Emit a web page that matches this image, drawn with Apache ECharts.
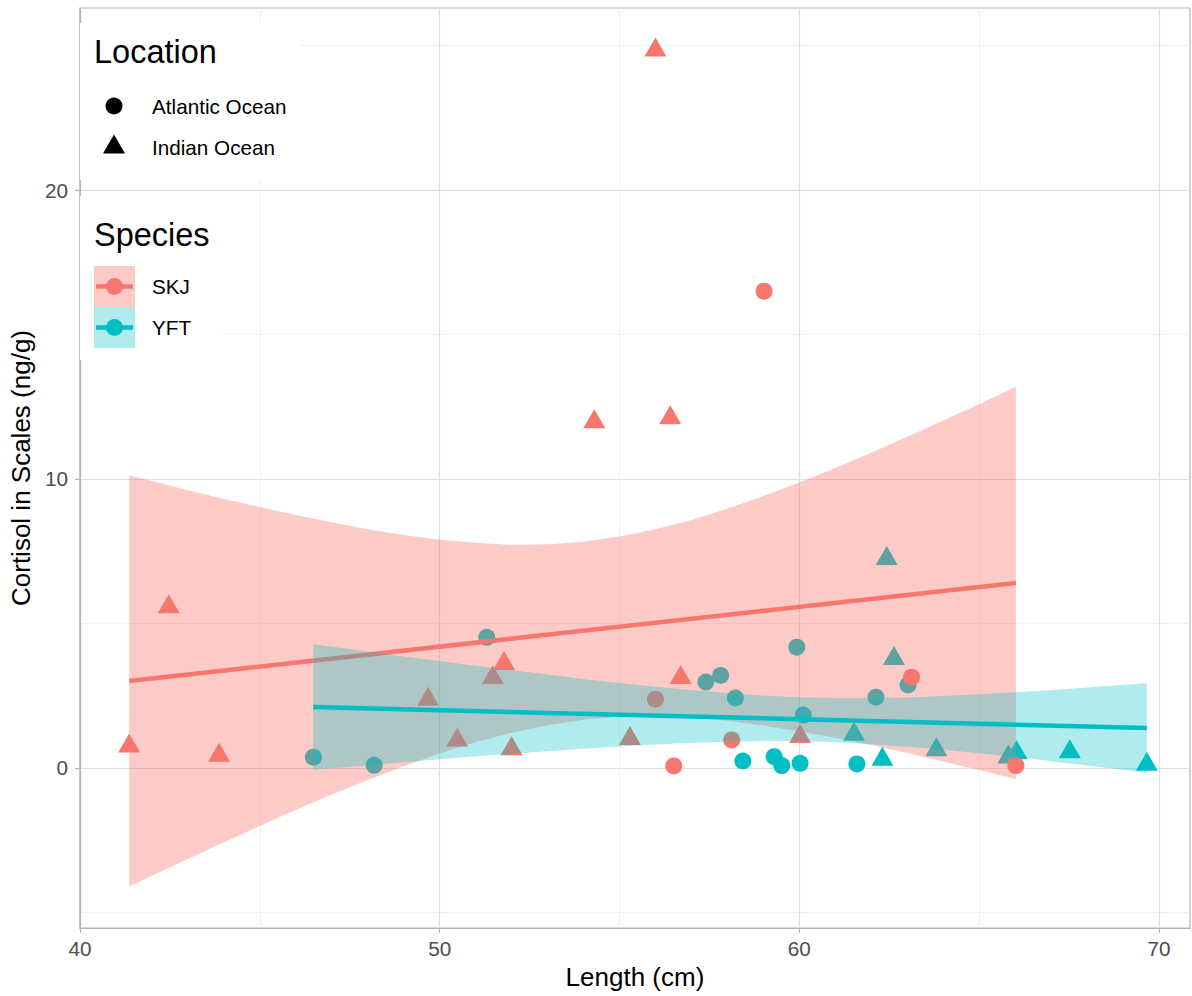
<!DOCTYPE html>
<html>
<head>
<meta charset="utf-8">
<script src="https://cdn.jsdelivr.net/npm/echarts@6/dist/echarts.min.js"></script>
<style>
html,body{margin:0;padding:0;background:#fff;}
#c{width:1192px;height:996px;}
</style>
</head>
<body>
<div id="c"></div>
<script>
// ---- data ----
const skjAtlX = [56.0, 56.51, 58.12, 59.02, 63.12, 66.02];
const skjAtlY = [2.38, 0.07, 0.97, 16.5, 3.14, 0.08];
const skjIndX = [41.37, 42.47, 43.87, 49.68, 50.49, 51.48, 51.79, 52.0, 54.30, 55.29, 56.0, 56.41, 56.70, 60.02];
const skjIndY = [0.75, 5.57, 0.43, 2.37, 0.96, 3.12, 3.61, 0.66, 11.97, 1.01, 24.84, 12.11, 3.12, 1.08];
const yftAtlX = [46.49, 48.18, 51.31, 57.40, 57.81, 58.22, 58.43, 59.30, 59.51, 59.93, 60.02, 60.11, 61.60, 62.13, 63.02];
const yftAtlY = [0.37, 0.09, 4.52, 2.97, 3.20, 2.42, 0.24, 0.39, 0.08, 4.18, 0.16, 1.83, 0.14, 2.45, 2.87];
const yftIndX = [61.52, 62.31, 62.43, 62.63, 63.81, 65.81, 66.04, 67.52, 69.66];
const yftIndY = [1.16, 0.29, 7.24, 3.78, 0.62, 0.37, 0.52, 0.55, 0.12];

// fitted lines (end points)
const skjFitX = [41.37, 66.02];
const skjFitY = [3.01, 6.40];
const yftFitX = [46.49, 69.66];
const yftFitY = [2.11, 1.38];

// confidence ribbons (upper / lower edges read along x)
const skjBandX  = [41.37, 42, 43, 44, 45, 46, 47, 48, 49, 50, 51, 52, 53, 54, 55, 56, 57, 58, 59, 60, 61, 62, 63, 64, 65, 66.02];
const skjBandHi = [10.12, 9.93, 9.61, 9.31, 9.03, 8.75, 8.50, 8.26, 8.06, 7.90, 7.79, 7.72, 7.74, 7.83, 8.01, 8.26, 8.58, 8.97, 9.41, 9.88, 10.38, 10.91, 11.46, 12.02, 12.59, 13.19];
const skjBandLo = [-4.10, -3.73, -3.15, -2.57, -2.01, -1.45, -0.92, -0.42, 0.06, 0.50, 0.89, 1.22, 1.48, 1.67, 1.77, 1.78, 1.74, 1.63, 1.47, 1.26, 1.04, 0.79, 0.52, 0.22, -0.07, -0.39];
const yftBandX  = [46.49, 48, 49, 50, 51, 52, 53, 54, 55, 56, 57, 58, 59, 60, 61, 62, 63, 64, 65, 66, 67, 68, 69.66];
const yftBandHi = [4.28, 4.03, 3.86, 3.70, 3.54, 3.39, 3.23, 3.08, 2.94, 2.81, 2.70, 2.59, 2.51, 2.45, 2.42, 2.42, 2.44, 2.49, 2.55, 2.62, 2.70, 2.78, 2.93];
const yftBandLo = [-0.06, 0.09, 0.20, 0.30, 0.40, 0.49, 0.58, 0.66, 0.74, 0.81, 0.87, 0.91, 0.93, 0.93, 0.89, 0.82, 0.73, 0.63, 0.51, 0.38, 0.23, 0.08, -0.17];

const xTicks = [40, 50, 60, 70];
const yTicks = [0, 10, 20];

// ---- styling ----
const FONT = '"Liberation Sans", Arial, Helvetica, sans-serif';
const RED = '#F8766D', CYAN = '#00BFC4';
const RED_FILL = 'rgba(248,118,109,0.38)';
const CYAN_FILL = 'rgba(0,191,196,0.31)';

const zip = (xs, ys) => xs.map((x, i) => [x, ys[i]]);

function scatter(name, xs, ys, color, tri) {
  return {
    type: 'scatter', name: name, data: zip(xs, ys),
    symbol: tri ? 'triangle' : 'circle',
    symbolSize: tri ? [22, 19] : 17,
    symbolOffset: tri ? [0, -3.2] : [0, 0],
    itemStyle: { color: color, opacity: 1 },
    z: 2, silent: true, emphasis: { disabled: true }
  };
}
function band(name, xs, lo, hi, fill, z) {
  return {
    type: 'custom', name: name, z: z, silent: true,
    data: [[xs[0], lo[0]]], encode: { x: 0, y: 1 },
    renderItem: function (params, api) {
      const pts = [];
      for (let i = 0; i < xs.length; i++) pts.push(api.coord([xs[i], hi[i]]));
      for (let i = xs.length - 1; i >= 0; i--) pts.push(api.coord([xs[i], lo[i]]));
      return { type: 'polygon', shape: { points: pts }, style: { fill: fill, stroke: null } };
    }
  };
}
function fitLine(name, xs, ys, color, z) {
  return {
    type: 'line', name: name, data: zip(xs, ys), symbol: 'none', z: z, silent: true,
    lineStyle: { color: color, width: 4.5 }, emphasis: { disabled: true }
  };
}

const axisCommon = {
  type: 'value',
  axisLine: { show: true, onZero: false, lineStyle: { color: '#B3B3B3', width: 1.2 } },
  axisTick: { show: true, length: 5, lineStyle: { color: '#B3B3B3', width: 1.2 } },
  splitLine: { show: true, lineStyle: { color: '#DEDEDE', width: 1.2 } },
  minorTick: { show: false, splitNumber: 2 },
  minorSplitLine: { show: true, lineStyle: { color: '#EEEEEE', width: 0.9 } },
  nameLocation: 'middle',
  nameTextStyle: { color: '#000', fontSize: 26, fontFamily: FONT }
};

const option = {
  animation: false,
  backgroundColor: '#fff',
  grid: { left: 79, right: 2, top: 8, bottom: 68, show: true, borderColor: '#B3B3B3', borderWidth: 1.2, backgroundColor: 'transparent' },
  xAxis: Object.assign({}, axisCommon, {
    min: 40, max: 70.86, interval: 10,
    name: 'Length (cm)', nameGap: 36,
    axisTick: Object.assign({}, axisCommon.axisTick, { customValues: xTicks }),
    axisLabel: { customValues: xTicks, color: '#4D4D4D', fontSize: 20.7, fontFamily: FONT, margin: 10,
      formatter: v => (xTicks.indexOf(v) >= 0 ? String(v) : '') }
  }),
  yAxis: Object.assign({}, axisCommon, {
    min: -5.54, max: 26.30, splitNumber: 3, minInterval: 10, maxInterval: 10,
    name: 'Cortisol in Scales (ng/g)', nameGap: 44,
    axisTick: Object.assign({}, axisCommon.axisTick, { customValues: yTicks }),
    axisLabel: { customValues: yTicks, color: '#4D4D4D', fontSize: 20.7, fontFamily: FONT, margin: 12,
      formatter: v => (yTicks.indexOf(v) >= 0 ? String(v) : '') }
  }),
  series: [
    scatter('YFT · Atlantic Ocean', yftAtlX, yftAtlY, CYAN, false),
    scatter('YFT · Indian Ocean', yftIndX, yftIndY, CYAN, true),
    scatter('SKJ · Atlantic Ocean', skjAtlX, skjAtlY, RED, false),
    scatter('SKJ · Indian Ocean', skjIndX, skjIndY, RED, true),
    band('SKJ ribbon', skjBandX, skjBandLo, skjBandHi, RED_FILL, 3),
    fitLine('SKJ', skjFitX, skjFitY, RED, 4),
    band('YFT ribbon', yftBandX, yftBandLo, yftBandHi, CYAN_FILL, 5),
    fitLine('YFT', yftFitX, yftFitY, CYAN, 6)
  ],
  graphic: [
    // Location legend
    { type: 'rect', z: 100, shape: { x: 80, y: 23, width: 220, height: 157 }, style: { fill: '#fff' } },
    { type: 'text', z: 101, x: 94, y: 52, style: { text: 'Location', font: '32.5px ' + FONT, fill: '#000', verticalAlign: 'middle' } },
    { type: 'circle', z: 101, shape: { cx: 114, cy: 106, r: 8.5 }, style: { fill: '#000' } },
    { type: 'text', z: 101, x: 152, y: 106, style: { text: 'Atlantic Ocean', font: '20.7px ' + FONT, fill: '#000', verticalAlign: 'middle' } },
    { type: 'polygon', z: 101, shape: { points: [[114, 134.5], [125, 153.5], [103, 153.5]] }, style: { fill: '#000' } },
    { type: 'text', z: 101, x: 152, y: 147, style: { text: 'Indian Ocean', font: '20.7px ' + FONT, fill: '#000', verticalAlign: 'middle' } },
    // Species legend
    { type: 'rect', z: 100, shape: { x: 80, y: 196, width: 143, height: 164 }, style: { fill: '#fff' } },
    { type: 'text', z: 101, x: 94, y: 235, style: { text: 'Species', font: '32.5px ' + FONT, fill: '#000', verticalAlign: 'middle' } },
    { type: 'rect', z: 101, shape: { x: 94, y: 266, width: 41, height: 41 }, style: { fill: RED_FILL } },
    { type: 'line', z: 102, shape: { x1: 96, y1: 286.5, x2: 133, y2: 286.5 }, style: { stroke: RED, lineWidth: 4.5 } },
    { type: 'circle', z: 103, shape: { cx: 114.5, cy: 286.5, r: 8.5 }, style: { fill: RED } },
    { type: 'text', z: 101, x: 152, y: 286.5, style: { text: 'SKJ', font: '20.7px ' + FONT, fill: '#000', verticalAlign: 'middle' } },
    { type: 'rect', z: 101, shape: { x: 94, y: 307, width: 41, height: 41 }, style: { fill: CYAN_FILL } },
    { type: 'line', z: 102, shape: { x1: 96, y1: 327.5, x2: 133, y2: 327.5 }, style: { stroke: CYAN, lineWidth: 4.5 } },
    { type: 'circle', z: 103, shape: { cx: 114.5, cy: 327.5, r: 8.5 }, style: { fill: CYAN } },
    { type: 'text', z: 101, x: 152, y: 327.5, style: { text: 'YFT', font: '20.7px ' + FONT, fill: '#000', verticalAlign: 'middle' } }
  ]
};

const chart = echarts.init(document.getElementById('c'), null, { renderer: 'svg' });
chart.setOption(option);
</script>
</body>
</html>
